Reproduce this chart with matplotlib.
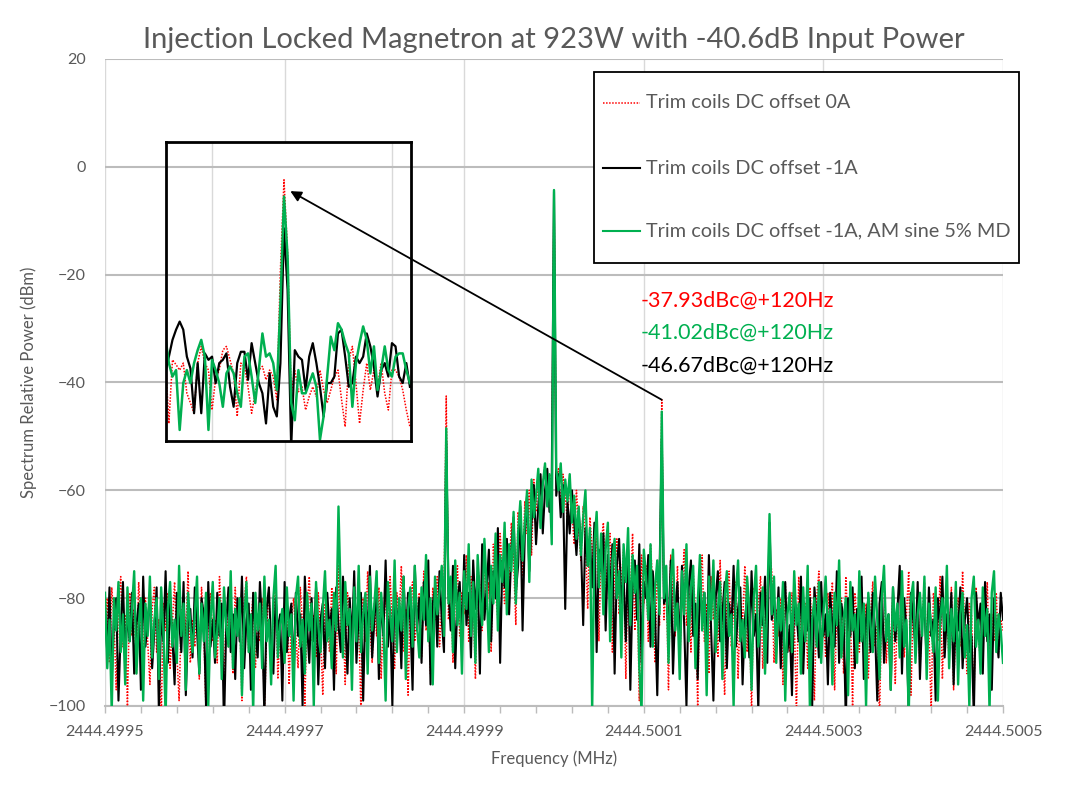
import numpy as np
import matplotlib
matplotlib.use("Agg")
import matplotlib.pyplot as plt
from matplotlib.patches import ConnectionPatch, Rectangle
from matplotlib.lines import Line2D

plt.rcParams['font.family'] = ['Lato', 'DejaVu Sans']

# ---------------- data ----------------
F_START = 2444.4995          # MHz, first sample
F_STEP = 2.5e-6              # MHz between samples (2.5 Hz)

# Trim coils DC offset 0A (red dotted)
red_dbm = [
    -86, -80, -92, -78, -84, -97, -81, -76, -89, -83, -100, -79, -87, -82, -94, -77, -85, -91, -80, -88,
    -96, -82, -78, -90, -84, -103, -81, -86, -79, -93, -85, -77, -90, -99, -83, -80, -87, -75, -92, -84,
    -89, -81, -95, -78, -86, -101, -83, -79, -88, -84, -92, -76, -85, -97, -82, -89, -80, -94, -78, -87,
    -83, -99, -81, -76, -90, -85, -79, -93, -84, -88, -80, -102, -86, -78, -91, -83, -77, -95, -85, -82,
    -89, -79, -96, -84, -80, -87, -93, -78, -85, -100, -82, -76, -88, -83, -91, -79, -86, -98, -81, -84,
    -90, -78, -85, -94, -74, -87, -83, -96, -79, -82, -91, -77, -86, -84, -101, -80, -88, -75, -85, -92,
    -81, -87, -78, -95, -83, -80, -89, -76, -85, -93, -79, -84, -74, -90, -82, -98, -80, -77, -88, -83,
    -79, -91, -75, -86, -81, -94, -78, -84, -76, -89, -82, -80, -42.5, -84, -77, -92, -80, -74, -87, -79,
    -83, -72, -88, -76, -80, -95, -74, -78, -86, -71, -82, -77, -90, -70, -79, -84, -68, -75, -81, -69,
    -77, -66, -73, -85, -64, -70, -76, -62, -68, -60, -72, -58, -64, -57, -66, -59, -55, -62, -57, -60,
    -4.4,
    -58, -56, -63, -57, -61, -66, -58, -64, -70, -60, -67, -73, -63, -69, -82, -65, -71, -76, -67, -88,
    -70, -66, -79, -72, -68, -90, -74, -69, -83, -77, -71, -95, -73, -80, -68, -86, -75, -99, -72, -81,
    -74, -88, -70, -78, -92, -73, -85, -43.2, -84, -76, -97, -72, -80, -87, -74, -93, -78, -71, -85, -79,
    -90, -75, -83, -100, -77, -72, -88, -81, -94, -76, -84, -79, -91, -73, -86, -98, -80, -75, -89, -82,
    -77, -95, -80, -85, -74, -90, -83, -101, -78, -86, -81, -76, -93, -84, -79, -72, -75, -92, -82, -87,
    -80, -96, -77, -85, -90, -79, -83, -102, -76, -88, -84, -81, -93, -78, -86, -99, -80, -75, -89, -83,
    -91, -79, -85, -77, -97, -82, -88, -80, -94, -76, -86, -83, -100, -79, -84, -90, -78, -87, -81, -95,
    -83, -77, -89, -85, -103, -80, -76, -92, -84, -88, -79, -96, -82, -86, -78, -91, -83, -75, -98, -81,
    -87, -80, -93, -84, -77, -90, -86, -101, -79, -83, -88, -76, -95, -82, -85, -91, -78, -97, -84, -80,
    -89, -75, -86, -94, -81, -83, -100, -78, -87, -92, -80, -85, -77, -96, -83, -88, -79, -90, -84, -86,
]

# Trim coils DC offset -1A (black)
black_dbm = [
    -82, -90, -78, -95, -84, -80, -99, -86, -77, -91, -83, -88, -79, -94, -85, -81, -97, -76, -89, -84,
    -80, -93, -86, -78, -101, -83, -88, -75, -92, -81, -87, -96, -79, -84, -90, -77, -98, -85, -82, -91,
    -78, -86, -94, -80, -83, -100, -77, -89, -84, -92, -79, -87, -81, -104, -85, -78, -90, -83, -95, -80,
    -88, -76, -93, -84, -81, -97, -79, -86, -91, -77, -85, -102, -82, -78, -89, -94, -80, -86, -83, -99,
    -77, -90, -84, -81, -95, -79, -87, -83, -100, -76, -85, -92, -80, -88, -78, -96, -84, -81, -93, -79,
    -86, -82, -97, -78, -85, -90, -76, -84, -94, -80, -88, -75, -92, -83, -79, -99, -81, -86, -74, -91,
    -84, -78, -95, -80, -87, -73, -89, -82, -100, -77, -85, -81, -93, -76, -88, -79, -84, -97, -74, -86,
    -80, -92, -77, -85, -73, -96, -81, -78, -89, -75, -84, -90, -51.0, -79, -86, -74, -93, -80, -77, -88,
    -72, -85, -79, -91, -73, -82, -76, -94, -70, -84, -78, -71, -88, -75, -80, -67, -92, -73, -78, -69,
    -83, -71, -65, -79, -74, -63, -86, -68, -61, -75, -66, -59, -70, -63, -57, -68, -60, -56, -64, -58,
    -4.6,
    -61, -57, -65, -59, -82, -62, -68, -60, -66, -72, -64, -70, -85, -67, -74, -69, -78, -66, -90, -71,
    -75, -68, -86, -72, -79, -70, -94, -74, -69, -81, -76, -88, -71, -97, -78, -73, -84, -70, -92, -77,
    -80, -72, -89, -75, -83, -98, -76, -50.5, -81, -79, -86, -73, -94, -82, -77, -90, -74, -85, -100, -78,
    -73, -87, -81, -95, -76, -84, -79, -91, -72, -86, -99, -80, -75, -88, -83, -77, -93, -81, -86, -74,
    -89, -82, -78, -96, -84, -80, -91, -75, -87, -83, -101, -79, -85, -76, -92, -66, -84, -80, -88, -78,
    -93, -81, -77, -90, -85, -98, -79, -83, -88, -76, -94, -82, -86, -80, -100, -78, -84, -91, -77, -87,
    -83, -96, -79, -85, -89, -75, -92, -81, -84, -103, -80, -87, -78, -93, -82, -88, -76, -95, -84, -80,
    -90, -79, -86, -99, -81, -77, -92, -85, -83, -97, -78, -88, -82, -74, -94, -80, -86, -101, -79, -84,
    -89, -77, -95, -83, -81, -92, -78, -87, -84, -99, -80, -85, -76, -91, -83, -88, -79, -96, -82, -86,
    -78, -93, -84, -80, -90, -87, -102, -79, -85, -81, -94, -77, -88, -83, -97, -80, -86, -91, -79, -84,
]

# Trim coils DC offset -1A, AM sine 5% MD (green)
green_dbm = [
    -79, -93, -84, -101, -80, -86, -77, -90, -83, -96, -78, -88, -82, -75, -94, -85, -80, -99, -81, -87,
    -76, -91, -84, -80, -95, -78, -86, -102, -82, -77, -89, -84, -92, -74, -87, -81, -97, -79, -85, -90,
    -83, -76, -94, -81, -88, -79, -100, -84, -77, -91, -86, -80, -95, -78, -85, -89, -75, -93, -82, -87,
    -80, -98, -84, -77, -90, -83, -101, -79, -86, -81, -93, -76, -88, -84, -96, -80, -74, -91, -85, -82,
    -92, -78, -87, -83, -99, -80, -76, -89, -84, -94, -79, -86, -81, -100, -77, -85, -90, -82, -75, -88,
    -84, -93, -79, -86, -63, -80, -91, -77, -85, -82, -97, -78, -88, -74, -90, -83, -79, -94, -76, -86,
    -81, -75, -92, -79, -85, -99, -77, -83, -88, -73, -90, -80, -86, -76, -95, -82, -78, -89, -74, -85,
    -91, -78, -84, -72, -88, -80, -96, -76, -83, -79, -74, -87, -48.5, -81, -76, -90, -73, -85, -79, -94,
    -75, -82, -70, -87, -77, -92, -72, -80, -85, -69, -78, -90, -74, -81, -68, -86, -72, -77, -66, -83,
    -70, -75, -64, -81, -68, -62, -73, -66, -60, -77, -58, -65, -61, -56, -67, -59, -55, -63, -57, -70,
    -4.3,
    -56, -60, -55, -64, -58, -62, -57, -66, -61, -69, -63, -72, -65, -60, -74, -67, -101, -70, -64, -78,
    -68, -83, -71, -66, -88, -73, -69, -80, -75, -91, -70, -77, -67, -85, -72, -79, -74, -93, -101, -71,
    -76, -84, -70, -89, -78, -73, -83, -45.4, -80, -74, -92, -77, -71, -86, -81, -95, -75, -83, -70, -88,
    -78, -74, -93, -81, -72, -86, -79, -98, -76, -84, -73, -90, -82, -77, -95, -80, -75, -87, -83, -100,
    -79, -73, -88, -84, -91, -76, -82, -97, -80, -74, -89, -85, -78, -94, -81, -64.4, -83, -76, -92, -80,
    -86, -77, -99, -83, -79, -90, -75, -85, -81, -94, -78, -88, -74, -101, -84, -80, -89, -77, -92, -83,
    -76, -87, -82, -96, -79, -85, -73, -91, -84, -80, -98, -77, -86, -83, -92, -75, -88, -81, -100, -79,
    -85, -90, -76, -84, -95, -80, -74, -88, -83, -97, -78, -86, -81, -91, -75, -89, -84, -102, -80, -77,
    -92, -83, -79, -87, -76, -95, -81, -85, -90, -78, -99, -84, -80, -86, -74, -93, -82, -88, -77, -96,
    -83, -79, -91, -85, -100, -80, -76, -89, -84, -94, -78, -87, -82, -101, -79, -75, -90, -83, -86, -92,
]

# Inset (zoomed view of the +120 Hz sideband region)
inset_offset = np.round(np.arange(-2.6, 11.01, 0.2), 2)
inset_red = [
    -35.2, -47.6, -35.8, -36.7, -37.7, -36.4, -42.0, -43.8, -45.7, -36.4, -33.3, -36.4, -37.7, -45.1, -39.2,
    -37.7, -34.0, -33.3, -35.8, -38.3, -46.3, -36.4, -37.0, -40.8, -45.7, -42.0, -37.7, -37.0, -39.5, -37.7,
    -38.9, -43.2, -19.1, -2.4, -16.0, -42.0, -37.7, -41.7, -40.8, -45.1, -42.6, -40.8, -42.6, -37.7, -41.4,
    -43.8, -41.4, -38.9, -37.7, -43.2, -48.2, -35.8, -33.3, -40.1, -47.6, -41.4, -36.4, -41.4, -37.7, -40.8,
    -36.4, -42.0, -45.1, -37.7, -37.7, -38.9, -41.4, -45.1, -48.2,
]
inset_black = [
    -38.3, -35.2, -32.1, -30.2, -28.7, -30.2, -35.2, -37.4, -45.7, -36.4, -45.7, -34.6, -35.8, -35.2, -40.1,
    -36.4, -35.8, -34.6, -40.8, -44.5, -36.4, -34.3, -34.3, -39.5, -32.7, -36.4, -40.1, -42.0, -47.6, -38.3,
    -44.5, -46.3, -36.4, -11.4, -22.8, -52.0, -34.0, -35.2, -35.8, -41.4, -35.2, -32.7, -36.4, -40.8, -46.3,
    -40.1, -40.1, -38.9, -30.9, -30.2, -35.2, -40.8, -40.1, -35.2, -36.4, -35.2, -30.9, -33.3, -37.0, -42.6,
    -37.7, -36.4, -38.9, -32.7, -33.3, -38.9, -40.1, -36.4, -40.8,
]
inset_green = [
    -31.5, -36.4, -38.9, -37.7, -48.8, -40.1, -37.7, -40.1, -36.4, -34.0, -32.1, -35.2, -48.8, -35.8, -37.7,
    -40.1, -44.5, -38.3, -37.0, -38.3, -42.0, -44.5, -35.2, -34.6, -38.9, -43.8, -37.7, -30.9, -35.2, -34.6,
    -36.4, -41.4, -25.3, -5.5, -16.7, -43.8, -47.0, -37.7, -42.0, -42.0, -40.1, -38.3, -40.8, -50.6, -46.3,
    -38.9, -31.5, -34.0, -29.0, -30.2, -32.7, -34.6, -44.5, -36.4, -32.7, -29.6, -32.1, -38.3, -33.3, -41.4,
    -37.7, -33.3, -37.7, -38.9, -35.2, -34.6, -34.6, -37.7, -40.1,
]

series_labels = ["Trim coils DC offset 0A",
                 "Trim coils DC offset -1A",
                 "Trim coils DC offset -1A, AM sine 5% MD"]
annot_texts = ["-37.93dBc@+120Hz", "-41.02dBc@+120Hz", "-46.67dBc@+120Hz"]
x_ticks = [2444.4995, 2444.4997, 2444.4999, 2444.5001, 2444.5003, 2444.5005]
x_ticklabels = ["2444.4995", "2444.4997", "2444.4999", "2444.5001", "2444.5003", "2444.5005"]
y_ticks = [20, 0, -20, -40, -60, -80, -100]
sideband_freq = 2444.50012

# ---------------- styling ----------------
RED = "#ff0000"
BLACK = "#000000"
GREEN = "#00b050"
TXT = "#595959"
HGRID = "#bcbcbc"
VGRID = "#d9d9d9"
RED_LS = (0, (1, 1))

freq = F_START + F_STEP * np.arange(len(red_dbm))

fig = plt.figure(figsize=(10.82, 7.96), dpi=100)
W, H = 1082, 796
ax = fig.add_axes([105 / W, 1 - 706 / H, (1003 - 105) / W, (706 - 59) / H])

ax.plot(freq, red_dbm, color=RED, lw=1.1, ls=RED_LS, zorder=3)
ax.plot(freq, black_dbm, color=BLACK, lw=1.5, zorder=4)
ax.plot(freq, green_dbm, color=GREEN, lw=1.7, zorder=5)

ax.set_xlim(x_ticks[0], x_ticks[-1])
ax.set_ylim(-100, 20)
ax.set_xticks(x_ticks, x_ticklabels)
ax.set_xticks(np.linspace(x_ticks[0], x_ticks[-1], 26), minor=True)
ax.set_yticks(y_ticks)
ax.tick_params(axis='x', which='both', direction='out', length=5, color=HGRID, width=1,
               labelsize=11.5, labelcolor=TXT, pad=9)
ax.tick_params(axis='y', length=0, labelsize=11.5, labelcolor=TXT, pad=14)
ax.grid(axis='y', color=HGRID, lw=1.5, zorder=0)
ax.grid(axis='x', which='major', color=VGRID, lw=1.0, zorder=0)
ax.set_axisbelow(True)
for s in ['top', 'right', 'left']:
    ax.spines[s].set_visible(False)
ax.spines['bottom'].set_color(HGRID)
ax.spines['bottom'].set_linewidth(1.5)

ax.set_xlabel("Frequency (MHz)", fontsize=12, color=TXT, labelpad=8)
ax.set_ylabel("Spectrum Relative Power (dBm)", fontsize=12, color=TXT, labelpad=8)
ax.set_title("Injection Locked Magnetron at 923W with -40.6dB Input Power",
             fontsize=21, color=TXT, pad=8)

# annotation texts
for t, c, yv in zip(annot_texts, [RED, GREEN, BLACK], [-24.9, -30.8, -36.9]):
    ax.text(2444.500096, yv, t, color=c, fontsize=15.5, ha='left', va='center', zorder=6)

# legend (drawn as a framed box with sample lines)
fig.add_artist(Rectangle((594 / W, 1 - 263 / H), 425 / W, 191 / H, transform=fig.transFigure,
                         facecolor='white', edgecolor='black', lw=1.3, zorder=20))
for lab, c, lw, ls, yp in zip(series_labels, [RED, BLACK, GREEN], [1.1, 1.5, 1.5],
                              [RED_LS, '-', '-'], [103, 168, 231]):
    fig.add_artist(Line2D([603 / W, 640 / W], [1 - yp / H] * 2, transform=fig.transFigure,
                          color=c, lw=lw, ls=ls, zorder=21))
    fig.text(646 / W, 1 - yp / H, lab, fontsize=14.3, color=TXT, ha='left', va='center',
             zorder=21)

# inset
axin = fig.add_axes([166 / W, 1 - 441 / H, (411 - 166) / W, (441 - 142) / H])
axin.set_facecolor('white')
axin.plot(inset_offset, inset_red, color=RED, lw=1.1, ls=RED_LS)
axin.plot(inset_offset, inset_black, color=BLACK, lw=1.6)
axin.plot(inset_offset, inset_green, color=GREEN, lw=1.8)
axin.set_xlim(-2.56, 11.06)
axin.set_ylim(-50.85, 4.61)
axin.set_xticks([0, 10])
axin.set_yticks([0, -20, -40])
axin.grid(axis='y', color=HGRID, lw=1.5)
axin.grid(axis='x', color=VGRID, lw=1.0)
axin.set_axisbelow(True)
axin.tick_params(length=0, labelbottom=False, labelleft=False)
for s in axin.spines.values():
    s.set_color('black')
    s.set_linewidth(2)

# arrow from +120 Hz sideband to inset peak
arrow = ConnectionPatch(xyA=(sideband_freq, max(red_dbm[240:256])), coordsA=ax.transData,
                        xyB=(4.35, -4.5), coordsB=axin.transData,
                        arrowstyle='-|>', mutation_scale=16, color='black', lw=1.3,
                        shrinkA=0, shrinkB=0, zorder=10)
fig.add_artist(arrow)

fig.savefig("out.png", dpi=100)
